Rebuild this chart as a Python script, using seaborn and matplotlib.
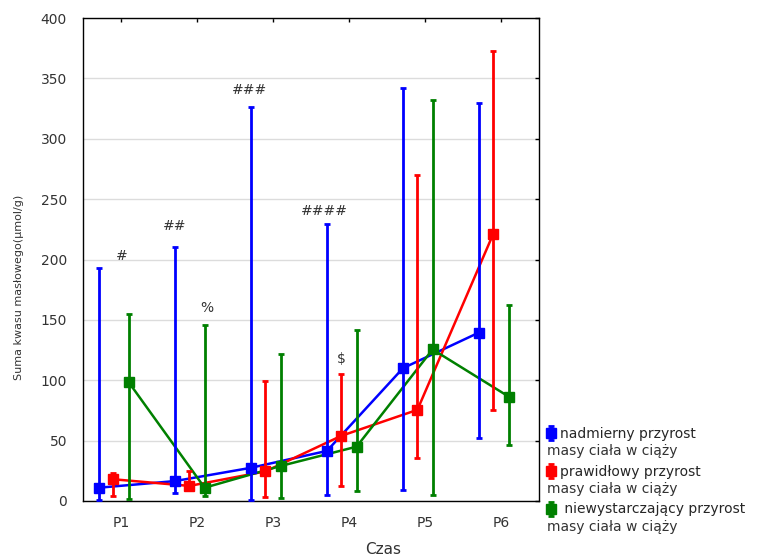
import numpy as np
import pandas as pd
import matplotlib
matplotlib.use("Agg")
import matplotlib.pyplot as plt
import seaborn as sns

# dane
periods = ["P1", "P2", "P3", "P4", "P5", "P6"]
groups = [
    "nadmierny przyrost",
    "prawidłowy przyrost",
    " niewystarczający przyrost",
]
second_line = "masy ciała w ciąży"

blue_mean = [11, 16.5, 27.5, 41.5, 110, 139.5]
blue_low = [1, 7, 0.5, 5, 9, 52.5]
blue_high = [193, 210, 326, 229.5, 342, 330]

red_mean = [18, 12.5, 24.5, 54, 75.5, 221.5]
red_low = [4, 9, 3.5, 12.5, 36, 75.5]
red_high = [23, 25, 99.5, 105, 270, 372.5]

green_mean = [98.5, 11, 29, 45, 125.5, 86.5]
green_low = [2, 4.5, 2.5, 8.5, 5, 46.5]
green_high = [154.5, 145.5, 122, 142, 332, 162]

# adnotacje istotności: (tekst, pozycja x, wartość y)
marks = ["#", "##", "%", "###", "####", "$"]
marks_x = [1.01, 1.70, 2.13, 2.69, 3.68, 3.90]
marks_y = [203, 228, 160, 340, 240, 118]

colors = ["#0000ff", "#ff0000", "#008000"]
offsets = [-0.29, -0.1, 0.1]

means = [blue_mean, red_mean, green_mean]
lows = [blue_low, red_low, green_low]
highs = [blue_high, red_high, green_high]

rows = []
for g, off, m in zip(groups, offsets, means):
    for i, val in enumerate(m):
        rows.append({"group": g, "x": i + 1 + off, "mean": val})
df = pd.DataFrame(rows)

sns.set_theme(style="white")
plt.rcParams["font.family"] = ["DejaVu Sans"]

W, H = 757, 556
fig = plt.figure(figsize=(W / 100, H / 100), dpi=100)
ax = fig.add_axes([83 / W, 1 - 501 / H, 456 / W, 483 / H])

sns.lineplot(data=df, x="x", y="mean", hue="group", hue_order=groups,
             palette=colors, marker="s", markersize=6.5, markeredgewidth=0,
             linewidth=1.8, legend=False, sort=False, estimator=None, ax=ax)

for g, off, c, m, lo, hi in zip(groups, offsets, colors, means, lows, highs):
    m = np.array(m)
    xs = np.arange(1, len(m) + 1) + off
    yerr = [m - np.array(lo), np.array(hi) - m]
    ax.errorbar(xs, m, yerr=yerr, fmt="s", color=c, ms=6.5,
                elinewidth=2, capsize=2.5, capthick=2, label=g, zorder=3)

for t, x, y in zip(marks, marks_x, marks_y):
    ax.text(x, y, t, ha="center", va="center", fontsize=10, color="#333333")

ax.set_xlim(0.5, 6.5)
ax.set_ylim(0, 400)
ax.set_xticks(range(1, 7))
ax.set_xticklabels(periods)
ax.set_yticks(range(0, 401, 50))
ax.yaxis.grid(True, color="#dcdcdc", linewidth=1)
ax.xaxis.grid(False)
ax.set_axisbelow(True)

for s in ax.spines.values():
    s.set_color("black")
    s.set_linewidth(1)
ax.tick_params(direction="in", length=3, width=1, color="black",
               top=True, right=True, labelsize=10, labelcolor="#333333")
ax.tick_params(axis="y", pad=11.5)
ax.tick_params(axis="x", pad=10.5)

ax.set_ylabel("Suma kwasu masłowego(µmol/g)", fontsize=8, color="#333333")
ax.set_xlabel("Czas", fontsize=11, color="#333333")
ax.xaxis.set_label_coords((383 - 83) / 456, -0.085)
ax.yaxis.set_label_coords(-0.13, 0.443)

# legenda: pierwsze linie z symbolami, drugie linie jako zwykły tekst
ax.legend(loc="upper left", bbox_to_anchor=(545 / W, 1 - 427 / H),
          bbox_transform=fig.transFigure, frameon=False, fontsize=10,
          handlelength=0.9, handletextpad=0.15, labelspacing=1.71,
          borderaxespad=0, borderpad=0)
for yy in [451, 489, 527]:
    fig.text(547 / W, 1 - yy / H, second_line, fontsize=10, color="#333333",
             ha="left", va="center")

fig.savefig("out.png", dpi=100)
